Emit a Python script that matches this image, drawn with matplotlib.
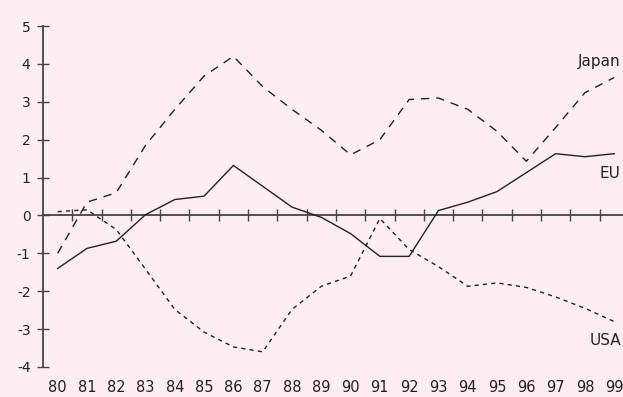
import matplotlib
matplotlib.use("Agg")
import matplotlib.pyplot as plt
import numpy as np

years = list(range(80, 100))
year_labels = [str(y) for y in years]
eu = [-1.4, -0.87, -0.68, 0.02, 0.42, 0.51, 1.32, 0.77, 0.22, -0.05, -0.48, -1.08, -1.08, 0.13, 0.35, 0.63, 1.13, 1.63, 1.55, 1.63]
japan = [-1.0, 0.35, 0.6, 1.85, 2.8, 3.68, 4.2, 3.4, 2.8, 2.25, 1.6, 2.0, 3.06, 3.1, 2.8, 2.22, 1.43, 2.32, 3.24, 3.64]
usa = [0.1, 0.15, -0.37, -1.42, -2.48, -3.08, -3.47, -3.6, -2.48, -1.87, -1.6, -0.08, -0.9, -1.35, -1.87, -1.78, -1.9, -2.15, -2.45, -2.8]
yticks = list(range(-4, 6))

bg = "#fcedf2"
ink = "#222222"
axc = "#444444"

plt.rcParams["axes.unicode_minus"] = False
plt.rcParams["font.family"] = ["DejaVu Sans"]

fig = plt.figure(figsize=(6.23, 3.97), dpi=100, facecolor=bg)
ax = fig.add_axes([43/623, 30/397, 580/623, 341/397])
ax.set_facecolor(bg)
ax.set_xlim(79.5, 99.3)
ax.set_ylim(-4, 5)

ax.plot(years, eu, color=ink, lw=1.0)
ax.plot(years, japan, color=ink, lw=1.0, dashes=(6, 5))
ax.plot(years, usa, color=ink, lw=1.0, dashes=(3, 3))

for s in ["top", "right", "bottom"]:
    ax.spines[s].set_visible(False)
ax.spines["left"].set_bounds(-4, 5)
ax.spines["left"].set_color(axc)
ax.spines["left"].set_linewidth(1.3)

ax.set_yticks(yticks)
ax.set_yticklabels([str(v) for v in yticks])
ax.tick_params(axis="y", direction="inout", length=8, width=1.0, color=axc,
               labelsize=10, pad=5, labelcolor=ink)

ax.set_xticks(years)
ax.set_xticklabels(year_labels)
ax.tick_params(axis="x", length=0, labelsize=10.5, pad=9, labelcolor=ink)

sec = ax.secondary_xaxis(4/9)
sec.set_xticks([y + 0.5 for y in years[:-1]])
sec.set_xticklabels([])
sec.tick_params(direction="inout", length=8, width=1.0, color=axc)
sec.spines["bottom"].set_color(axc)
sec.spines["bottom"].set_linewidth(1.3)

ax.text(99.2, 4.05, "Japan", ha="right", va="center", fontsize=11, color=ink)
ax.text(99.2, 1.1, "EU", ha="right", va="center", fontsize=11, color=ink)
ax.text(99.25, -3.3, "USA", ha="right", va="center", fontsize=11, color=ink)

fig.savefig("out.png", dpi=100, facecolor=bg)
